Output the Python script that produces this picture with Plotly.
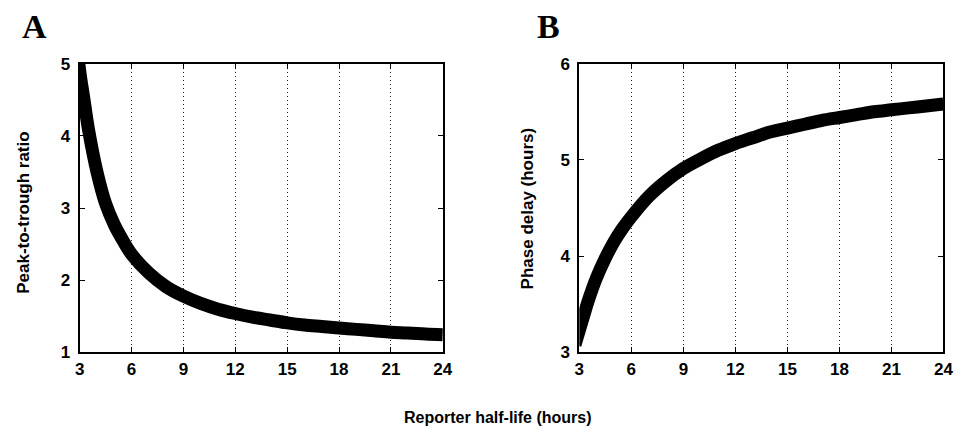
import plotly.graph_objects as go

# Reporter half-life (hours); the first point lies just left of the axis
# range so the thick trace runs cleanly into the left edge of each frame.
half_life = [2.75, 3, 3.25, 3.5, 4, 4.5, 5, 5.5, 6, 7, 8, 9, 10, 11, 12, 13,
             14, 15, 16, 17, 18, 19, 20, 21, 22, 23, 24]

# Panel A: peak-to-trough ratio of the reporter signal
peak_to_trough = [5.5, 4.9, 4.5, 4.1, 3.5, 3.06, 2.77, 2.55, 2.36, 2.1, 1.91,
                  1.78, 1.68, 1.6, 1.54, 1.49, 1.45, 1.41, 1.38, 1.36, 1.34,
                  1.32, 1.30, 1.28, 1.27, 1.255, 1.245]

# Panel B: phase delay of the reporter (hours)
phase_delay = [3.08, 3.23, 3.38, 3.53, 3.78, 3.98, 4.15, 4.29, 4.41, 4.62,
               4.78, 4.91, 5.01, 5.1, 5.17, 5.23, 5.29, 5.33, 5.37, 5.41,
               5.44, 5.47, 5.5, 5.52, 5.54, 5.56, 5.58]

x_ticks = [3, 6, 9, 12, 15, 18, 21, 24]
a_ticks = [1, 2, 3, 4, 5]
b_ticks = [3, 4, 5, 6]

W, H = 963, 432
SANS = "Liberation Sans"
SERIF = "Liberation Serif"


def px(x):
    """Horizontal page pixel -> paper fraction."""
    return (x - 1.5) / 0.995 / W


def py(y):
    """Vertical page pixel (from top) -> paper fraction."""
    return 1 - (y - 7) / 0.963 / H


fig = go.Figure()
fig.add_trace(go.Scatter(x=half_life, y=peak_to_trough, mode="lines",
                         line=dict(color="black", width=13, shape="spline"),
                         xaxis="x", yaxis="y", hoverinfo="skip"))
fig.add_trace(go.Scatter(x=half_life, y=phase_delay, mode="lines",
                         line=dict(color="black", width=13, shape="spline"),
                         xaxis="x2", yaxis="y2", hoverinfo="skip"))

tickfont = dict(family=SANS, size=17, color="black", weight="bold")
common = dict(showline=True, linecolor="black", linewidth=2, mirror="ticks",
              ticks="inside", ticklen=5, tickcolor="black", tickwidth=1,
              tickfont=tickfont, zeroline=False, fixedrange=True)

xgrid = dict(showgrid=True, gridcolor="#222222", gridwidth=1,
             griddash="1px,3px", range=[3, 24], tickvals=x_ticks)

ydom = [py(353), py(62)]

fig.update_layout(
    width=W, height=H,
    margin=dict(l=0, r=0, t=0, b=0),
    paper_bgcolor="white", plot_bgcolor="white",
    showlegend=False,
    xaxis=dict(domain=[px(77), px(444)], anchor="y", **xgrid, **common),
    yaxis=dict(domain=ydom, anchor="x", range=[1, 5], tickvals=a_ticks,
               showgrid=False, ticklabelstandoff=4, **common),
    xaxis2=dict(domain=[px(582), px(950)], anchor="y2", **xgrid, **common),
    yaxis2=dict(domain=ydom, anchor="x2", range=[3, 6], tickvals=b_ticks,
                showgrid=False, ticklabelstandoff=4, **common),
)

annotations = [
    dict(text="A", x=px(31), y=py(25),
         font=dict(family=SERIF, size=34, color="black", weight="bold")),
    dict(text="B", x=px(551), y=py(25),
         font=dict(family=SERIF, size=34, color="black", weight="bold")),
    dict(text="Peak-to-trough ratio", x=px(20), y=py(212), textangle=-90,
         font=dict(family=SANS, size=17, color="black", weight="bold")),
    dict(text="Phase delay (hours)", x=px(530), y=py(208), textangle=-90,
         font=dict(family=SANS, size=17, color="black", weight="bold")),
    dict(text="Reporter half-life (hours)", x=px(500), y=py(418),
         font=dict(family=SANS, size=16, color="black", weight="bold")),
]
for a in annotations:
    a.update(xref="paper", yref="paper", showarrow=False,
             xanchor="center", yanchor="middle")
fig.update_layout(annotations=annotations)

fig.write_html("out.html", config={"displayModeBar": False})
